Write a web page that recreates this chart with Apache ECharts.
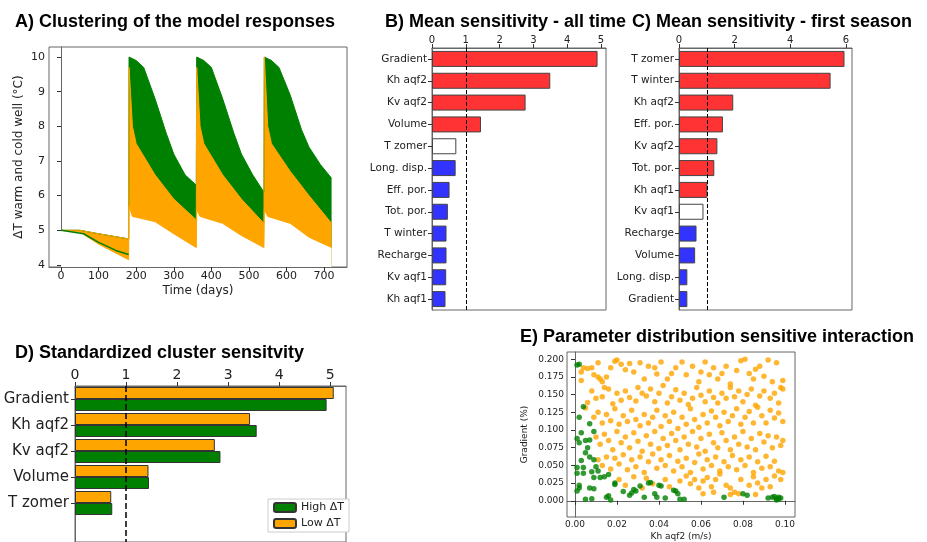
<!DOCTYPE html>
<html><head><meta charset="utf-8">
<script src="https://cdn.jsdelivr.net/npm/echarts@6/dist/echarts.min.js"></script>
<style>html,body{margin:0;padding:0;background:#fff}#c{width:927px;height:542px}</style>
</head><body><div id="c"></div>
<script>
// A) envelopes of the model responses, [day, dT]
var greenUpper = [[0,5],[50,5],[100,4.9],[180,4.75],[181,10],[200,9.9],[220,9.7],[250,8.8],[280,7.8],[300,7.2],[330,6.6],[360,6.3],
  [361,10],[380,9.9],[400,9.7],[430,8.8],[460,7.8],[480,7.2],[510,6.6],[540,6.1],[541,10],[560,9.9],[580,9.7],[610,8.9],[640,7.9],[660,7.4],[690,6.9],[720,6.5]];
var orangeUpper = [[0,5],[50,5],[100,4.9],[180,4.75],[181,9.7],[190,8.0],[200,7.5],[250,6.6],[300,5.9],[360,5.3],
  [361,9.7],[370,8.0],[380,7.5],[430,6.6],[480,5.9],[540,5.2],[541,10],[550,8.0],[560,7.5],[610,6.7],[660,6.0],[720,5.2]];
var orangeLower = [[0,5],[50,4.95],[100,4.6],[180,4.15],[181,5.7],[190,5.4],[250,5.25],[300,4.9],[360,4.5],
  [361,5.6],[370,5.4],[430,5.2],[480,4.85],[540,4.5],[541,5.6],[550,5.4],[610,5.2],[660,4.8],[720,4.5]];
var greenFirst = [[0,5],[60,4.9],[100,4.65],[150,4.4],[180,4.3]];

// B) all time
var bCats = ['Gradient','Kh aqf2','Kv aqf2','Volume','T zomer','Long. disp.','Eff. por.','Tot. por.','T winter','Recharge','Kv aqf1','Kh aqf1'];
var bVals = [4.9,3.5,2.77,1.45,0.72,0.7,0.52,0.47,0.43,0.43,0.42,0.4];
var bKind = ['r','r','r','r','w','b','b','b','b','b','b','b'];
// C) first season
var cCats = ['T zomer','T winter','Kh aqf2','Eff. por.','Kv aqf2','Tot. por.','Kh aqf1','Kv aqf1','Recharge','Volume','Long. disp.','Gradient'];
var cVals = [5.95,5.45,1.95,1.58,1.38,1.27,1.02,0.88,0.63,0.58,0.3,0.3];
var cKind = ['r','r','r','r','r','r','r','w','b','b','b','b'];
// D) cluster sensitivity
var dCats = ['Gradient','Kh aqf2','Kv aqf2','Volume','T zomer',''];
var dLow = [5.07,3.43,2.74,1.44,0.71];
var dHigh = [4.93,3.56,2.85,1.45,0.73];
// E) Kh aqf2 vs Gradient
var eGreen = [[0.001,0.192],[0.002,0.193],[0.004,0.133],[0.002,0.118],[0.007,0.109],[0.003,0.096],[0.009,0.098],[0.001,0.088],[0.002,0.082],[0.005,0.085],[0.007,0.086],[0.006,0.075],[0.005,0.068],[0.007,0.062],[0.003,0.057],[0.009,0.058],[0.001,0.047],[0.004,0.047],[0.001,0.039],[0.004,0.039],[0.008,0.041],[0.010,0.048],[0.011,0.042],[0.009,0.033],[0.012,0.033],[0.014,0.034],[0.016,0.037],[0.002,0.022],[0.002,0.018],[0.001,0.014],[0.007,0.018],[0.009,0.017],[0.005,0.002],[0.008,0.003],[0.015,0.005],[0.016,0.007],[0.017,0.001],[0.019,0.025],[0.019,0.023],[0.023,0.013],[0.026,0.008],[0.027,0.011],[0.028,0.016],[0.029,0.014],[0.031,0.021],[0.033,0.005],[0.035,0.025],[0.036,0.026],[0.038,0.010],[0.039,0.005],[0.041,0.021],[0.040,0.022],[0.043,0.004],[0.047,0.015],[0.048,0.014],[0.049,0.010],[0.050,0.002],[0.052,0.002],[0.071,0.005],[0.080,0.010],[0.082,0.008],[0.092,0.004],[0.094,0.005],[0.095,0.006],[0.096,0.003],[0.097,0.002],[0.097,0.005],[0.098,0.004],[0.096,0.001]];
var eOrange = [[0.004,0.188],[0.006,0.187],[0.003,0.170],[0.003,0.182],[0.008,0.188],[0.011,0.195],[0.009,0.178],[0.012,0.172],[0.013,0.168],[0.011,0.175],[0.015,0.175],[0.017,0.188],[0.019,0.197],[0.020,0.199],[0.022,0.193],[0.024,0.185],[0.026,0.194],[0.028,0.182],[0.031,0.195],[0.033,0.172],[0.035,0.190],[0.038,0.188],[0.039,0.179],[0.041,0.196],[0.044,0.172],[0.046,0.180],[0.048,0.188],[0.051,0.196],[0.053,0.178],[0.056,0.190],[0.059,0.168],[0.060,0.182],[0.062,0.196],[0.064,0.178],[0.066,0.188],[0.068,0.172],[0.070,0.180],[0.072,0.190],[0.074,0.165],[0.077,0.184],[0.079,0.198],[0.081,0.200],[0.083,0.180],[0.085,0.172],[0.086,0.186],[0.088,0.190],[0.090,0.176],[0.092,0.199],[0.094,0.168],[0.096,0.195],[0.098,0.160],[0.099,0.170],
 [0.006,0.139],[0.005,0.131],[0.008,0.155],[0.010,0.145],[0.013,0.147],[0.014,0.160],[0.016,0.158],[0.018,0.137],[0.020,0.152],[0.022,0.142],[0.024,0.155],[0.026,0.146],[0.029,0.141],[0.030,0.160],[0.032,0.152],[0.034,0.148],[0.036,0.158],[0.038,0.140],[0.040,0.152],[0.042,0.163],[0.044,0.138],[0.046,0.147],[0.048,0.157],[0.050,0.142],[0.052,0.152],[0.054,0.136],[0.056,0.145],[0.058,0.160],[0.060,0.149],[0.062,0.140],[0.064,0.155],[0.066,0.146],[0.068,0.138],[0.070,0.152],[0.072,0.145],[0.074,0.160],[0.076,0.147],[0.078,0.155],[0.080,0.140],[0.082,0.150],[0.084,0.158],[0.086,0.135],[0.088,0.148],[0.090,0.155],[0.093,0.145],[0.095,0.152],[0.097,0.138],[0.099,0.158],
 [0.009,0.118],[0.011,0.125],[0.013,0.110],[0.015,0.122],[0.017,0.113],[0.019,0.130],[0.021,0.108],[0.023,0.120],[0.025,0.112],[0.027,0.128],[0.029,0.115],[0.031,0.106],[0.033,0.122],[0.035,0.110],[0.037,0.118],[0.039,0.128],[0.041,0.105],[0.043,0.120],[0.045,0.112],[0.047,0.125],[0.049,0.102],[0.051,0.118],[0.053,0.108],[0.055,0.130],[0.057,0.115],[0.059,0.104],[0.061,0.122],[0.063,0.110],[0.065,0.127],[0.067,0.118],[0.069,0.106],[0.071,0.125],[0.073,0.112],[0.075,0.120],[0.077,0.130],[0.079,0.108],[0.081,0.118],[0.083,0.126],[0.085,0.110],[0.087,0.132],[0.089,0.120],[0.091,0.110],[0.093,0.128],[0.095,0.117],[0.097,0.124],[0.099,0.112],
 [0.010,0.090],[0.012,0.080],[0.014,0.094],[0.016,0.085],[0.018,0.072],[0.020,0.098],[0.022,0.082],[0.024,0.090],[0.026,0.075],[0.028,0.096],[0.030,0.084],[0.032,0.070],[0.034,0.092],[0.036,0.080],[0.038,0.098],[0.040,0.074],[0.042,0.088],[0.044,0.078],[0.046,0.095],[0.048,0.085],[0.050,0.072],[0.052,0.090],[0.054,0.080],[0.056,0.098],[0.058,0.076],[0.060,0.088],[0.062,0.070],[0.064,0.094],[0.066,0.082],[0.068,0.075],[0.070,0.096],[0.072,0.085],[0.074,0.072],[0.076,0.090],[0.078,0.080],[0.080,0.098],[0.082,0.076],[0.084,0.088],[0.086,0.072],[0.088,0.095],[0.090,0.083],[0.092,0.092],[0.094,0.075],[0.096,0.090],[0.098,0.078],[0.099,0.085],
 [0.011,0.058],[0.013,0.050],[0.015,0.062],[0.017,0.045],[0.019,0.060],[0.021,0.052],[0.023,0.065],[0.025,0.044],[0.027,0.058],[0.029,0.048],[0.031,0.062],[0.033,0.040],[0.035,0.055],[0.037,0.066],[0.039,0.046],[0.041,0.058],[0.043,0.050],[0.045,0.064],[0.047,0.042],[0.049,0.056],[0.051,0.048],[0.053,0.060],[0.055,0.040],[0.057,0.054],[0.059,0.066],[0.061,0.045],[0.063,0.058],[0.065,0.050],[0.067,0.062],[0.069,0.042],[0.071,0.055],[0.073,0.048],[0.075,0.064],[0.077,0.044],[0.079,0.058],[0.081,0.050],[0.083,0.062],[0.085,0.040],[0.087,0.055],[0.089,0.046],[0.091,0.063],[0.093,0.048],[0.095,0.056],[0.097,0.042],[0.099,0.040],
 [0.021,0.030],[0.024,0.022],[0.028,0.034],[0.032,0.018],[0.034,0.032],[0.037,0.024],[0.043,0.030],[0.045,0.020],[0.050,0.028],[0.053,0.035],[0.055,0.024],[0.057,0.030],[0.059,0.018],[0.061,0.028],[0.063,0.033],[0.065,0.020],[0.067,0.030],[0.069,0.038],[0.072,0.022],[0.074,0.018],[0.076,0.012],[0.078,0.010],[0.079,0.030],[0.083,0.022],[0.085,0.034],[0.087,0.025],[0.089,0.018],[0.091,0.030],[0.093,0.020],[0.095,0.035],[0.098,0.030],[0.074,0.009],[0.086,0.009],[0.061,0.010],[0.066,0.012]];

function kindColor(k){ return k==='r' ? '#ff3333' : (k==='w' ? '#ffffff' : '#3333ff'); }
var tick = {show:true, length:4, lineStyle:{color:'#333'}};
var line = {show:true, lineStyle:{color:'#666'}};
var txt = {fontFamily:'DejaVu Sans', color:'#222'};

function hbar(vals, kinds){
  return vals.map(function(v,i){ return {value:v, itemStyle:{color:kindColor(kinds[i])}}; });
}

var option = {
  animation:false,
  title:[
    {text:'A) Clustering of the model responses', left:10, top:8},
    {text:'B) Mean sensitivity - all time', left:380, top:8},
    {text:'C) Mean sensitivity - first season', left:627, top:8},
    {text:'D) Standardized cluster sensitvity', left:10, top:339},
    {text:'E) Parameter distribution sensitive interaction', left:515, top:323}
  ].map(function(t){ t.textStyle={fontFamily:'Liberation Sans', fontWeight:'bold', fontSize:18, color:'#000'}; return t; }),
  grid:[
    {left:49, top:47, width:298, height:220, show:true, borderColor:'#666', borderWidth:1},
    {left:432, top:48, width:174, height:262, show:true, borderColor:'#666', borderWidth:1},
    {left:679, top:48, width:173, height:262, show:true, borderColor:'#666', borderWidth:1},
    {left:75, top:386, width:271, height:184, show:true, borderColor:'#666', borderWidth:1},
    {left:567, top:352, width:228, height:183, show:true, borderColor:'#666', borderWidth:1}
  ],
  xAxis:[
    {type:'value', gridIndex:0, min:-32, max:761, name:'Time (days)', nameLocation:'middle', nameGap:18,
     nameTextStyle:Object.assign({fontSize:12},txt), splitLine:{show:false}, axisLine:line,
     axisTick:Object.assign({customValues:[0,100,200,300,400,500,600,700]},tick),
     axisLabel:Object.assign({fontSize:11, margin:4, customValues:[0,100,200,300,400,500,600,700]},txt)},
    {type:'value', gridIndex:1, position:'top', min:0, max:5.15, splitLine:{show:false}, axisLine:line,
     axisTick:Object.assign({customValues:[0,1,2,3,4,5]},tick),
     axisLabel:Object.assign({fontSize:10, margin:3, customValues:[0,1,2,3,4,5]},txt)},
    {type:'value', gridIndex:2, position:'top', min:0, max:6.22, splitLine:{show:false}, axisLine:line,
     axisTick:Object.assign({customValues:[0,2,4,6]},tick),
     axisLabel:Object.assign({fontSize:10, margin:3, customValues:[0,2,4,6]},txt)},
    {type:'value', gridIndex:3, position:'top', min:0, max:5.31, splitLine:{show:false}, axisLine:line,
     axisTick:Object.assign({customValues:[0,1,2,3,4,5]},tick),
     axisLabel:Object.assign({fontSize:14, margin:4, customValues:[0,1,2,3,4,5]},txt)},
    {type:'value', gridIndex:4, min:-0.0038, max:0.1048, name:'Kh aqf2 (m/s)', nameLocation:'middle', nameGap:15,
     nameTextStyle:Object.assign({fontSize:9},txt), splitLine:{show:false}, axisLine:line,
     axisTick:Object.assign({customValues:[0,0.02,0.04,0.06,0.08,0.1]},tick),
     axisLabel:Object.assign({fontSize:9, margin:3, customValues:[0,0.02,0.04,0.06,0.08,0.1],
       formatter:function(v){return v.toFixed(2);}},txt)}
  ],
  yAxis:[
    {type:'value', gridIndex:0, min:3.94, max:10.29, name:'ΔT warm and cold well (°C)', nameLocation:'middle', nameGap:24,
     nameTextStyle:Object.assign({fontSize:12},txt), splitLine:{show:false}, axisLine:line,
     axisTick:Object.assign({customValues:[4,5,6,7,8,9,10]},tick),
     axisLabel:Object.assign({fontSize:11, margin:4, customValues:[4,5,6,7,8,9,10]},txt)},
    {type:'category', gridIndex:1, inverse:true, data:bCats, axisLine:line, axisTick:Object.assign({alignWithLabel:true},tick),
     axisLabel:Object.assign({fontSize:10.5, margin:5},txt)},
    {type:'category', gridIndex:2, inverse:true, data:cCats, axisLine:line, axisTick:Object.assign({alignWithLabel:true},tick),
     axisLabel:Object.assign({fontSize:10.5, margin:5},txt)},
    {type:'category', gridIndex:3, inverse:true, data:dCats, axisLine:line,
     axisTick:Object.assign({alignWithLabel:true, customValues:[0,1,2,3,4]},tick),
     axisLabel:Object.assign({fontSize:15, margin:6},txt)},
    {type:'value', gridIndex:4, min:-0.0229, max:0.2102, name:'Gradient (%)', nameLocation:'middle', nameGap:38,
     nameTextStyle:Object.assign({fontSize:9},txt), splitLine:{show:false}, axisLine:line,
     axisTick:Object.assign({customValues:[0,0.025,0.05,0.075,0.1,0.125,0.15,0.175,0.2]},tick),
     axisLabel:Object.assign({fontSize:9, margin:3, customValues:[0,0.025,0.05,0.075,0.1,0.125,0.15,0.175,0.2],
       formatter:function(v){return v.toFixed(3);}},txt)}
  ],
  legend:{left:268, top:499, orient:'vertical', itemWidth:22, itemHeight:9, itemGap:5,
    data:['High ΔT','Low ΔT'], backgroundColor:'#fff', borderColor:'#ccc', borderWidth:1, padding:[3,5],
    textStyle:Object.assign({fontSize:11},txt)},
  series:[
    {type:'line', xAxisIndex:0, yAxisIndex:0, data:greenUpper, symbol:'none', lineStyle:{color:'#008000', width:1},
     areaStyle:{color:'#008000', opacity:1, origin:'start'}},
    {type:'line', xAxisIndex:0, yAxisIndex:0, data:orangeUpper, symbol:'none', lineStyle:{color:'#ffa500', width:1},
     areaStyle:{color:'#ffa500', opacity:1, origin:'start'}},
    {type:'line', xAxisIndex:0, yAxisIndex:0, data:orangeLower, symbol:'none', lineStyle:{color:'#ffa500', width:1},
     areaStyle:{color:'#ffffff', opacity:1, origin:'start'}},
    {type:'line', xAxisIndex:0, yAxisIndex:0, data:greenFirst, symbol:'none', lineStyle:{color:'#008000', width:1.5}},
    {type:'bar', xAxisIndex:1, yAxisIndex:1, data:hbar(bVals,bKind), barWidth:16,
     itemStyle:{borderColor:'#444', borderWidth:1},
     markLine:{symbol:'none', silent:true, label:{show:false}, lineStyle:{type:'dashed', color:'#000', width:1}, data:[{xAxis:1}]}},
    {type:'bar', xAxisIndex:2, yAxisIndex:2, data:hbar(cVals,cKind), barWidth:16,
     itemStyle:{borderColor:'#444', borderWidth:1},
     markLine:{symbol:'none', silent:true, label:{show:false}, lineStyle:{type:'dashed', color:'#000', width:1}, data:[{xAxis:1}]}},
    {type:'bar', name:'Low ΔT', xAxisIndex:3, yAxisIndex:3, data:dLow, barWidth:12, barGap:'0%',
     itemStyle:{color:'#ffa500', borderColor:'#333', borderWidth:1},
     markLine:{symbol:'none', silent:true, label:{show:false}, lineStyle:{type:'dashed', color:'#000', width:1.5}, data:[{xAxis:1}]}},
    {type:'bar', name:'High ΔT', xAxisIndex:3, yAxisIndex:3, data:dHigh, barWidth:12, barGap:'0%',
     itemStyle:{color:'#008000', borderColor:'#333', borderWidth:1}},
    {type:'scatter', xAxisIndex:4, yAxisIndex:4, data:eOrange, symbolSize:5.5, itemStyle:{color:'#ffa500'}},
    {type:'scatter', xAxisIndex:4, yAxisIndex:4, data:eGreen, symbolSize:5.5, itemStyle:{color:'#008000'}}
  ]
};
echarts.init(document.getElementById('c')).setOption(option);
</script></body></html>
